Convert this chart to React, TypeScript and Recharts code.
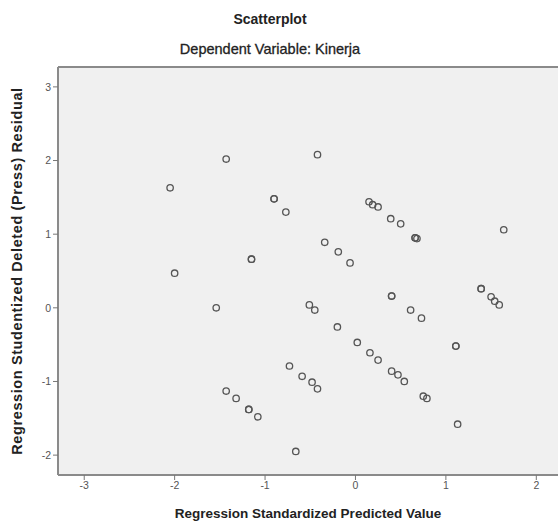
import {
	CartesianGrid,
	ReferenceLine,
	Scatter,
	ScatterChart,
	XAxis,
	YAxis,
} from "recharts";

// Regression standardized predicted value (x) and studentized deleted residual (y)
const predicted = [
	-2.05, -2.0, -1.43, -1.54, -1.43, -1.32, -1.18, -1.18, -1.08, -0.9, -0.9,
	-0.77, -1.15, -1.15, -0.42, -0.34, -0.19, -0.06, -0.51, -0.45, -0.2, -0.73,
	-0.59, -0.48, -0.42, -0.66, 0.15, 0.19, 0.25, 0.39, 0.5, 0.66, 0.66, 0.68,
	1.64, 0.4, 0.4, 0.61, 0.73, 0.02, 0.16, 0.25, 0.4, 0.47, 0.54, 0.75, 0.79,
	1.13, 1.11, 1.11, 1.39, 1.39, 1.5, 1.54, 1.59,
];

const residual = [
	1.63, 0.47, 2.02, 0.0, -1.13, -1.23, -1.38, -1.38, -1.48, 1.48, 1.48, 1.3,
	0.66, 0.66, 2.08, 0.89, 0.76, 0.61, 0.04, -0.03, -0.26, -0.79, -0.93, -1.01,
	-1.1, -1.95, 1.44, 1.4, 1.37, 1.21, 1.14, 0.95, 0.95, 0.94, 1.06, 0.16, 0.16,
	-0.03, -0.14, -0.47, -0.61, -0.71, -0.86, -0.91, -1.0, -1.2, -1.23, -1.58,
	-0.52, -0.52, 0.26, 0.26, 0.15, 0.09, 0.04,
];

const xTicks = [-3, -2, -1, 0, 1, 2];
const yTicks = [-2, -1, 0, 1, 2, 3];

const X_DOMAIN: [number, number] = [-3.29, 2.24];
const Y_DOMAIN: [number, number] = [-2.27, 3.27];

const points = predicted.map((x, i) => ({ x, y: residual[i] }));

const FONT = "'Liberation Sans', Arial, sans-serif";
const FRAME = "#8a8a8a";

const RingDot = (props: { cx?: number; cy?: number }) => {
	const { cx, cy } = props;
	if (cx == null || cy == null) return null;
	return (
		<circle
			cx={cx}
			cy={cy}
			r={3.2}
			fill="none"
			stroke="#555"
			strokeWidth={1.3}
		/>
	);
};

export default function App() {
	return (
		<div
			style={{
				position: "absolute",
				left: 0,
				top: 0,
				width: 558,
				height: 526,
				background: "#fff",
				fontFamily: FONT,
			}}
		>
			<div
				style={{
					position: "absolute",
					top: 11,
					left: 0,
					width: 540,
					textAlign: "center",
					fontSize: 14,
					fontWeight: "bold",
					color: "#222",
				}}
			>
				Scatterplot
			</div>
			<div
				style={{
					position: "absolute",
					top: 41,
					left: 0,
					width: 540,
					textAlign: "center",
					fontSize: 14.5,
					color: "#222",
					WebkitTextStroke: "0.3px #222",
				}}
			>
				Dependent Variable: Kinerja
			</div>
			<ScatterChart
				width={558}
				height={526}
				margin={{ top: 67, right: 0, bottom: 0, left: 0 }}
				style={{ position: "absolute", left: 0, top: 0 }}
			>
				<CartesianGrid
					horizontal={false}
					vertical={false}
					fill="#f0f0f0"
				/>
				<XAxis
					type="number"
					dataKey="x"
					domain={X_DOMAIN}
					ticks={xTicks}
					allowDataOverflow
					height={51}
					axisLine={{ stroke: FRAME, strokeWidth: 2 }}
					tickLine={{ stroke: "#777" }}
					tickSize={5}
					tick={{ fill: "#555", fontSize: 10.5, fontFamily: FONT }}
					label={{
						value: "Regression Standardized Predicted Value",
						position: "insideBottom",
						offset: 8,
						fill: "#222",
						fontSize: 13.5,
						fontWeight: "bold",
						fontFamily: FONT,
					}}
				/>
				<YAxis
					type="number"
					dataKey="y"
					domain={Y_DOMAIN}
					ticks={yTicks}
					allowDataOverflow
					width={58}
					axisLine={{ stroke: FRAME, strokeWidth: 2 }}
					tickLine={{ stroke: "#777" }}
					tickSize={5}
					tick={{ fill: "#555", fontSize: 10.5, fontFamily: FONT }}
					label={{
						value: "Regression Studentized Deleted (Press) Residual",
						angle: -90,
						position: "insideLeft",
						offset: 17,
						style: { textAnchor: "middle", letterSpacing: 0.6 },
						fill: "#222",
						fontSize: 14.5,
						fontWeight: "bold",
						fontFamily: FONT,
					}}
				/>
				<ReferenceLine y={Y_DOMAIN[1]} stroke={FRAME} strokeWidth={2} />
				<Scatter
					data={points}
					shape={<RingDot />}
					isAnimationActive={false}
				/>
			</ScatterChart>
		</div>
	);
}
